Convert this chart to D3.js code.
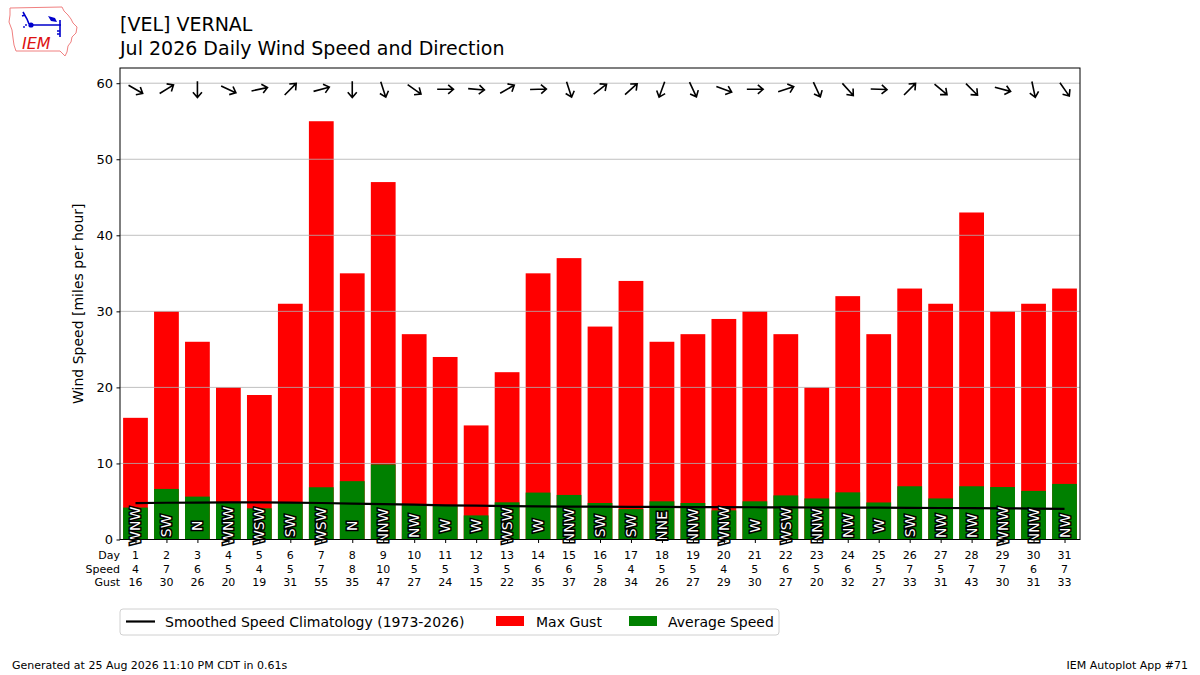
<!DOCTYPE html>
<html>
<head>
<meta charset="utf-8">
<script src="https://cdn.jsdelivr.net/npm/d3@7"></script>
<style>
body { margin: 0; background: #fff; }
text { font-family: "DejaVu Sans", sans-serif; }
</style>
</head>
<body>
<svg id="chart" width="1200" height="675"></svg>
<script>
// daily values
const days = [1, 2, 3, 4, 5, 6, 7, 8, 9, 10, 11, 12, 13, 14, 15, 16, 17, 18, 19, 20, 21, 22, 23, 24, 25, 26, 27, 28, 29, 30, 31];
const avgSpeed = [4.2, 6.65, 5.64, 4.9, 4.1, 4.9, 6.87, 7.67, 9.87, 4.6, 4.5, 3.17, 4.89, 6.17, 5.86, 4.8,
    4.0, 5.02, 4.8, 3.83, 5.02, 5.8, 5.4, 6.2, 4.87, 7.0, 5.4, 7.0, 6.9, 6.39, 7.31];
const speedRow = [4, 7, 6, 5, 4, 5, 7, 8, 10, 5, 5, 3, 5, 6, 6, 5, 4, 5, 5, 4, 5, 6, 5, 6, 5, 7, 5, 7, 7, 6, 7];
const maxGust = [16, 30, 26, 20, 19, 31, 55, 35, 47, 27, 24, 15, 22, 35, 37, 28, 34, 26, 27, 29, 30, 27, 20, 32, 27, 33, 31, 43, 30, 31, 33];
const windDir = [300, 238, 0, 295, 258, 225, 255, 0, 342, 305, 270, 275, 240, 268, 342, 232,
    228, 20, 335, 290, 270, 252, 335, 318, 272, 225, 310, 315, 285, 348, 325];
const dirText = ['WNW', 'SW', 'N', 'WNW', 'WSW', 'SW', 'WSW', 'N', 'NNW', 'NW', 'W', 'W', 'WSW', 'W', 'NNW', 'SW',
    'SW', 'NNE', 'NNW', 'WNW', 'W', 'WSW', 'NNW', 'NW', 'W', 'SW', 'NW', 'NW', 'WNW', 'NNW', 'NW'];
const climo = [4.79, 4.83, 4.86, 4.87, 4.87, 4.85, 4.8, 4.72, 4.65, 4.58, 4.5, 4.45, 4.4, 4.36, 4.33, 4.31,
    4.3, 4.28, 4.27, 4.25, 4.24, 4.22, 4.21, 4.2, 4.18, 4.16, 4.14, 4.12, 4.1, 4.07, 4.04];
const yTicks = [0, 10, 20, 30, 40, 50, 60];

const svg = d3.select('#chart');
const plotL = 120, plotR = 1080, plotT = 68, plotB = 539.5;

const x = d3.scaleLinear().domain([0.5, 31.5]).range([plotL, plotR]);
const y = d3.scaleLinear().domain([0, 62]).range([plotB, plotT]);
const barW = x(1.8) - x(1);

// gust bars then average speed bars
svg.append('g').selectAll('rect').data(days).join('rect')
    .attr('x', d => x(d) - barW / 2)
    .attr('width', barW)
    .attr('y', (d, i) => y(maxGust[i]))
    .attr('height', (d, i) => y(0) - y(maxGust[i]))
    .attr('fill', '#ff0000');

svg.append('g').selectAll('rect').data(days).join('rect')
    .attr('x', d => x(d) - barW / 2)
    .attr('width', barW)
    .attr('y', (d, i) => y(avgSpeed[i]))
    .attr('height', (d, i) => y(0) - y(avgSpeed[i]))
    .attr('fill', '#008000');

// climatology line
const line = d3.line().x(d => x(d)).y((d, i) => y(climo[i]));
svg.append('path').datum(days)
    .attr('d', line)
    .attr('fill', 'none')
    .attr('stroke', '#000')
    .attr('stroke-width', 2.2);

// y gridlines drawn over bars
svg.append('g').selectAll('line').data(yTicks.filter(t => t > 0)).join('line')
    .attr('x1', plotL).attr('x2', plotR)
    .attr('y1', d => y(d)).attr('y2', d => y(d))
    .attr('stroke', '#b0b0b0').attr('stroke-width', 0.8);

// direction labels
svg.append('g').selectAll('text').data(days).join('text')
    .attr('transform', d => `translate(${x(d)},${y(1.8)}) rotate(-90)`)
    .attr('text-anchor', 'middle')
    .attr('dominant-baseline', 'central')
    .attr('font-size', 14)
    .attr('fill', '#fff')
    .attr('stroke', '#000')
    .attr('stroke-width', 3)
    .attr('paint-order', 'stroke')
    .text((d, i) => dirText[i]);

// arrows showing where the wind blows to
const arrows = svg.append('g').selectAll('g').data(days).join('g')
    .attr('transform', (d, i) => {
        const r = windDir[i] * Math.PI / 180;
        const ang = Math.atan2(Math.cos(r), -Math.sin(r)) * 180 / Math.PI;
        return `translate(${x(d)},${y(59.2)}) rotate(${ang})`;
    });
arrows.append('path')
    .attr('d', 'M-8,0L8,0M3,-4.5L8.3,0L3,4.5')
    .attr('fill', 'none')
    .attr('stroke', '#000')
    .attr('stroke-width', 1.6);

// axes box
svg.append('rect')
    .attr('x', plotL).attr('y', plotT)
    .attr('width', plotR - plotL).attr('height', plotB - plotT)
    .attr('fill', 'none').attr('stroke', '#000').attr('stroke-width', 1);

const yAxis = d3.axisLeft(y).tickValues(yTicks).tickSize(3.5).tickPadding(3.5);
svg.append('g').attr('transform', `translate(${plotL},0)`).call(yAxis)
    .call(g => g.select('.domain').remove())
    .call(g => g.selectAll('text').attr('font-size', 13).attr('fill', '#000').attr('font-family', 'DejaVu Sans'));

const xAxis = d3.axisBottom(x).tickValues(days).tickSize(3.5).tickFormat('');
svg.append('g').attr('transform', `translate(0,${plotB})`).call(xAxis)
    .call(g => g.select('.domain').remove());

svg.append('text')
    .attr('transform', `translate(83,${(plotT + plotB) / 2}) rotate(-90)`)
    .attr('text-anchor', 'middle')
    .attr('font-size', 14)
    .text('Wind Speed [miles per hour]');

// table under the x axis
const rows = [
    { name: 'Day', vals: days, yy: 559 },
    { name: 'Speed', vals: speedRow, yy: 572.5 },
    { name: 'Gust', vals: maxGust, yy: 586 }
];
rows.forEach(r => {
    svg.append('text').attr('x', 120).attr('y', r.yy)
        .attr('text-anchor', 'end').attr('font-size', 11).text(r.name);
    svg.append('g').selectAll('text').data(days).join('text')
        .attr('x', d => x(d)).attr('y', r.yy)
        .attr('text-anchor', 'middle').attr('font-size', 11)
        .text((d, i) => r.vals[i]);
});

// titles
svg.append('text').attr('x', 120).attr('y', 31).attr('font-size', 19).text('[VEL] VERNAL');
svg.append('text').attr('x', 120).attr('y', 55).attr('font-size', 19).text('Jul 2026 Daily Wind Speed and Direction');

// legend
const lg = svg.append('g');
lg.append('rect').attr('x', 120).attr('y', 609).attr('width', 659).attr('height', 26)
    .attr('rx', 3).attr('fill', '#fff').attr('stroke', '#d0d0d0');
lg.append('line').attr('x1', 126).attr('x2', 155).attr('y1', 621.5).attr('y2', 621.5)
    .attr('stroke', '#000').attr('stroke-width', 2.2);
lg.append('text').attr('x', 165).attr('y', 626.5).attr('font-size', 14).text('Smoothed Speed Climatology (1973-2026)');
lg.append('rect').attr('x', 496).attr('y', 616).attr('width', 28).attr('height', 10).attr('fill', '#ff0000');
lg.append('text').attr('x', 536).attr('y', 626.5).attr('font-size', 14).text('Max Gust');
lg.append('rect').attr('x', 629).attr('y', 616).attr('width', 28).attr('height', 10).attr('fill', '#008000');
lg.append('text').attr('x', 668).attr('y', 626.5).attr('font-size', 14).text('Average Speed');

// footer
svg.append('text').attr('x', 12).attr('y', 669).attr('font-size', 11)
    .text('Generated at 25 Aug 2026 11:10 PM CDT in 0.61s');
svg.append('text').attr('x', 1188).attr('y', 669).attr('font-size', 11).attr('text-anchor', 'end')
    .text('IEM Autoplot App #71');

// IEM logo
const logo = svg.append('g');
logo.append('path')
    .attr('d', 'M10,8L62,7L64,11L68,15L71,19L73,23L77,27L76,33L72,37L71,42L68,46L67,52L65,56L62,53L60,51L16,51L14,45L13,38L12,30L9,22L10,15Z')
    .attr('fill', '#fff').attr('stroke', '#f08080').attr('stroke-width', 1);
logo.append('path')
    .attr('d', 'M23,12L27,19L29,24M22,16L25,15M31,25L61,25M60,20L60,37M57,31L60,31M57,34L60,34')
    .attr('fill', 'none').attr('stroke', '#0000cc').attr('stroke-width', 1.6);
logo.append('circle').attr('cx', 31).attr('cy', 25).attr('r', 2.6).attr('fill', '#0000cc');
logo.append('path').attr('d', 'M48,16L55,18L57,22L51,21Z').attr('fill', '#0000cc');
logo.append('circle').attr('cx', 24).attr('cy', 27).attr('r', 0.9).attr('fill', '#0000cc');
logo.append('circle').attr('cx', 26).attr('cy', 25).attr('r', 0.9).attr('fill', '#0000cc');
logo.append('text').attr('x', 22).attr('y', 49)
    .attr('font-family', '"Liberation Serif", serif').attr('font-style', 'italic')
    .attr('font-size', 16).attr('fill', '#dd1111').text('IEM');
</script>
</body>
</html>
